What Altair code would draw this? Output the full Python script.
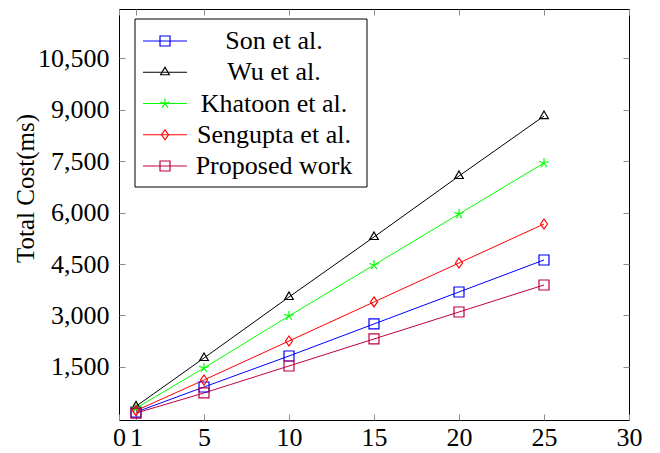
import altair as alt
import pandas as pd

# ---- data ----
x_vals = [1, 5, 10, 15, 20, 25]
son = [185, 917, 1820, 2753, 3685, 4617]
wu = [353, 1762, 3539, 5287, 7064, 8811]
khatoon = [298, 1471, 2986, 4471, 5957, 7443]
sengupta = [227, 1121, 2257, 3394, 4530, 5666]
proposed = [157, 743, 1529, 2316, 3102, 3889]

names = ["Son et al.", "Wu et al.", "Khatoon et al.", "Sengupta et al.", "Proposed work"]
colors = ["#0000ff", "#000000", "#00ff00", "#ff0000", "#bf0040"]
x_ticks = [0, 1, 5, 10, 15, 20, 25, 30]
y_ticks = [1500, 3000, 4500, 6000, 7500, 9000, 10500]

series = [son, wu, khatoon, sengupta, proposed]

# marker shapes (pgfplots-like)
SQUARE = "M-1,-1H1V1H-1Z"
TRIANGLE = "M0,-1L0.866,0.5L-0.866,0.5Z"
STAR = ("M0,0L0,-1M0,0L0.951,-0.309M0,0L0.588,0.809"
        "M0,0L-0.588,0.809M0,0L-0.951,-0.309")
DIAMOND = "M0,-1L0.7,0L0,1L-0.7,0Z"
shapes = [SQUARE, TRIANGLE, STAR, DIAMOND, SQUARE]

rows = []
for k, (nm, vals) in enumerate(zip(names, series)):
    for xv, yv in zip(x_vals, vals):
        rows.append({"x": xv, "y": yv, "name": nm, "order": k})
df = pd.DataFrame(rows)
leg_df = pd.DataFrame({"name": names, "idx": list(range(len(names)))})

FONT = "Liberation Serif"
TICK_COLOR = "#8c8c8c"

color_scale = alt.Scale(domain=names, range=colors)
shape_scale = alt.Scale(domain=names, range=shapes)
x_scale = alt.Scale(domain=[0, 30], nice=False, zero=False)
y_scale = alt.Scale(domain=[-45, 11930], nice=False, zero=False)

tick_axis = dict(offset=-6, tickSize=6, tickColor=TICK_COLOR, tickWidth=1,
                 domain=False, grid=False)

x_bottom = alt.X("x:Q", scale=x_scale,
                 axis=alt.Axis(values=x_ticks, title=None, labelPadding=4,
                               labelFont=FONT, labelFontSize=26, labelColor="black",
                               labelFlush=False, labelOverlap=False, **tick_axis))
y_left = alt.Y("y:Q", scale=y_scale,
               axis=alt.Axis(values=y_ticks, format=",d", title="Total Cost(ms)",
                             labelPadding=10, labelFont=FONT, labelFontSize=26,
                             labelColor="black", labelFlush=False, labelOverlap=False,
                             titleFont=FONT, titleFontSize=25, titleFontWeight="normal",
                             titleColor="black", titleX=-100, titleY=179,
                             titleBaseline="middle", **tick_axis))
x_top = alt.X("x:Q", scale=x_scale,
              axis=alt.Axis(values=x_ticks, orient="top", labels=False, title=None,
                            **tick_axis))
y_right = alt.Y("y:Q", scale=y_scale,
                axis=alt.Axis(values=y_ticks, orient="right", labels=False, title=None,
                              **tick_axis))

base = alt.Chart(df)

lines = base.mark_line(strokeWidth=1.0).encode(
    x=x_bottom, y=y_left,
    color=alt.Color("name:N", scale=color_scale, legend=None),
    order="x:Q",
)

points = base.mark_point(filled=False, size=100, strokeWidth=1.2, opacity=1).encode(
    x=x_top, y=y_right,
    color=alt.Color("name:N", scale=color_scale, legend=None),
    shape=alt.Shape("name:N", scale=shape_scale, legend=None),
)

# ---- legend (drawn from the same series list) ----
leg_base = alt.Chart(leg_df).transform_calculate(ly="32 + 31.25 * datum.idx")

leg_box = alt.Chart(pd.DataFrame({"k": [0]})).mark_rect(
    fill="white", stroke="black", strokeWidth=1
).encode(x=alt.value(16), x2=alt.value(248), y=alt.value(10), y2=alt.value(178))

leg_lines = leg_base.mark_rule(strokeWidth=1.0).encode(
    x=alt.value(24), x2=alt.value(68),
    y=alt.Y("ly:Q", scale=None, axis=None),
    color=alt.Color("name:N", scale=color_scale, legend=None),
)
leg_pts = leg_base.mark_point(filled=False, size=100, strokeWidth=1.2, opacity=1).encode(
    x=alt.value(46),
    y=alt.Y("ly:Q", scale=None, axis=None),
    color=alt.Color("name:N", scale=color_scale, legend=None),
    shape=alt.Shape("name:N", scale=shape_scale, legend=None),
)
leg_text = leg_base.mark_text(font=FONT, fontSize=26, align="center",
                              baseline="middle", color="black").encode(
    x=alt.value(155),
    y=alt.Y("ly:Q", scale=None, axis=None),
    text="name:N",
)

chart = alt.layer(lines, points, leg_box, leg_lines, leg_pts, leg_text).resolve_axis(
    x="independent", y="independent"
).properties(
    width=510, height=411,
    autosize=alt.AutoSizeParams(type="none"),
    padding={"left": 111, "top": 1, "right": 23, "bottom": 33},
    background="white",
).configure_view(stroke="black", strokeWidth=1)

chart.save("out.html", embed_options={"renderer": "svg", "actions": False})
